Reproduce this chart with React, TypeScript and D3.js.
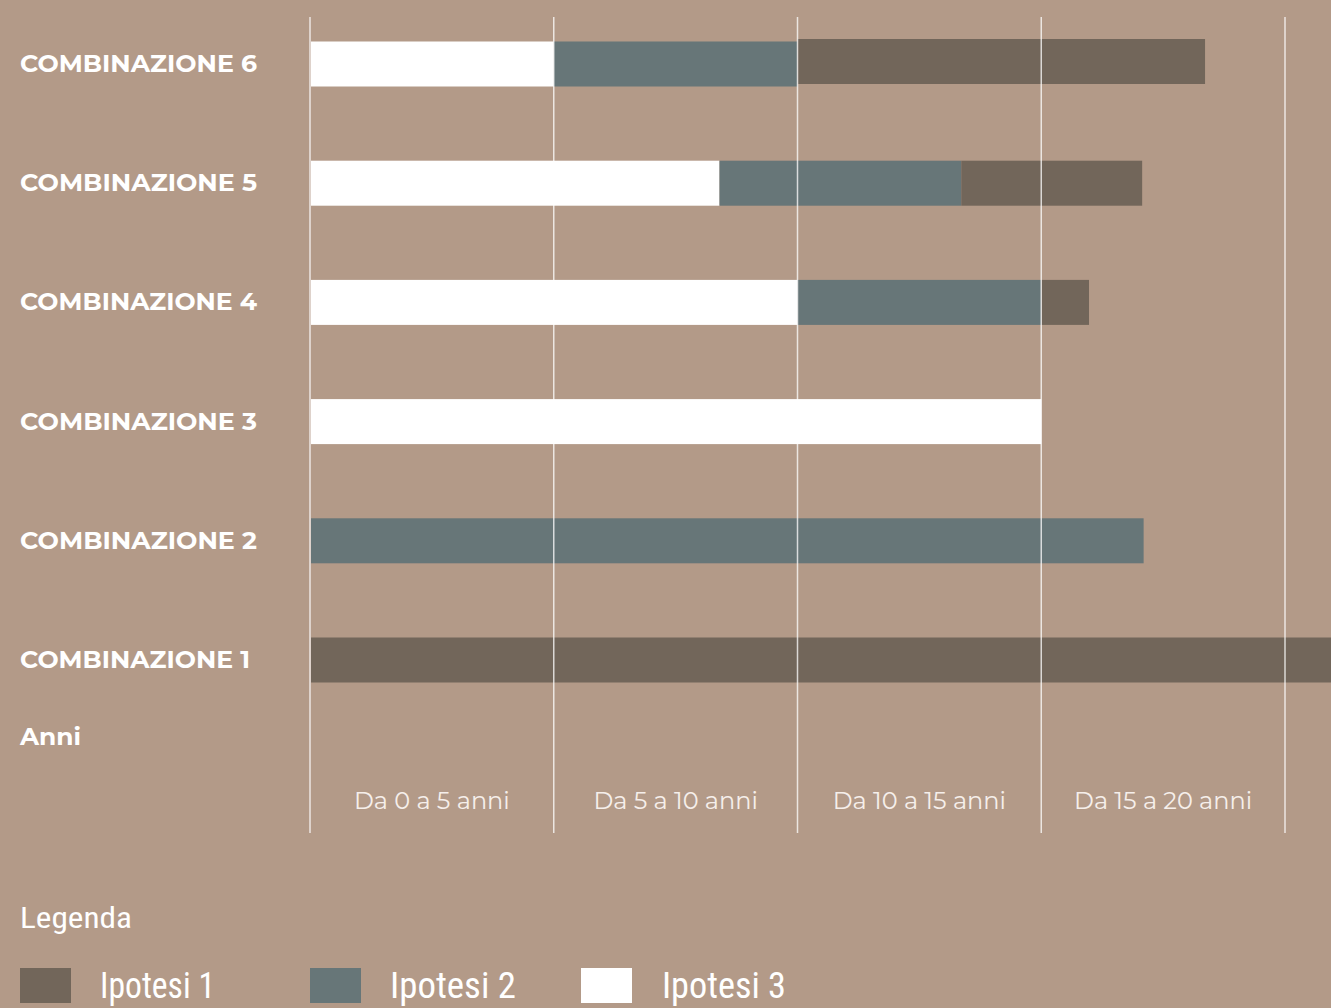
import React from "react";
import * as d3 from "d3";

const combinations = ["COMBINAZIONE 6", "COMBINAZIONE 5", "COMBINAZIONE 4", "COMBINAZIONE 3", "COMBINAZIONE 2", "COMBINAZIONE 1"];
const ipotesi3 = [5, 8.4, 10, 15, 0, 0];
const ipotesi2 = [5, 4.96, 5, 0, 17.1, 0];
const ipotesi1 = [8.36, 3.71, 0.98, 0, 0, 22];
const gridTicks = [0, 5, 10, 15, 20];
const tickLabels = ["Da 0 a 5 anni", "Da 5 a 10 anni", "Da 10 a 15 anni", "Da 15 a 20 anni"];
const legendLabels = ["Ipotesi 1", "Ipotesi 2", "Ipotesi 3"];

const W = 1331;
const H = 1008;
const BG = "#b39a88";
const C1 = "#72665a";
const C2 = "#677678";
const C3 = "#ffffff";

export default function App() {
  const x = d3.scaleLinear().domain([0, 20]).range([310, 1285]);
  const y = d3.scalePoint<string>().domain(combinations).range([64, 660]);
  const barH = 45;

  const rows = combinations.map((c, i) => ({ name: c, ip3: ipotesi3[i], ip2: ipotesi2[i], ip1: ipotesi1[i] }));
  const keys = ["ip3", "ip2", "ip1"];
  const colors: Record<string, string> = { ip3: C3, ip2: C2, ip1: C1 };
  const stacked = d3.stack<any>().keys(keys)(rows);

  const labelFont = "Montserrat, 'Open Sans', Lato, sans-serif";
  const narrowFont = "'Liberation Sans Narrow', 'Roboto Condensed', 'DejaVu Sans Condensed', sans-serif";
  const legendItems = [
    { label: legendLabels[0], color: C1, sx: 20, tx: 100, len: 115 },
    { label: legendLabels[1], color: C2, sx: 310, tx: 390, len: 126 },
    { label: legendLabels[2], color: C3, sx: 581, tx: 662, len: 124 },
  ];

  return (
    <svg width={W} height={H} style={{ position: "absolute", left: 0, top: 0, background: BG }}>
      <defs>
        <clipPath id="clip">
          <rect x={0} y={0} width={W} height={H} />
        </clipPath>
      </defs>
      <rect x={0} y={0} width={W} height={H} fill={BG} />
      <g clipPath="url(#clip)">
        {stacked.map((s) =>
          s.map((d, i) =>
            d[1] - d[0] > 0 ? (
              <rect
                key={s.key + i}
                x={x(d[0]) + (d[0] === 0 ? 1 : 0)}
                y={(y(combinations[i]) as number) - barH / 2 - (i === 0 && s.key === "ip1" ? 2.5 : 0)}
                width={x(d[1]) - x(d[0]) - (d[0] === 0 ? 1 : 0)}
                height={barH}
                fill={colors[s.key]}
              />
            ) : null
          )
        )}
      </g>
      {gridTicks.map((t) => (
        <line key={t} x1={x(t)} x2={x(t)} y1={17} y2={833} stroke="#ffffff" strokeOpacity={0.75} strokeWidth={1.5} />
      ))}
      {combinations.map((c) => (
        <text
          key={c}
          x={20}
          y={(y(c) as number) + 8}
          fill="#ffffff"
          fontFamily={labelFont}
          fontWeight={700}
          fontSize={23}
          textLength={c.endsWith("1") ? 230 : 237}
          lengthAdjust="spacingAndGlyphs"
        >
          {c}
        </text>
      ))}
      <text x={20} y={745} fill="#ffffff" fontFamily={labelFont} fontWeight={700} fontSize={23} textLength={61} lengthAdjust="spacingAndGlyphs">
        Anni
      </text>
      {tickLabels.map((t, i) => (
        <text
          key={t}
          x={(x(gridTicks[i]) + x(gridTicks[i + 1])) / 2}
          y={809}
          textAnchor="middle"
          fill="#f6efeb"
          fontFamily={labelFont}
          fontWeight={400}
          fontSize={24}
        >
          {t}
        </text>
      ))}
      <text
        x={20}
        y={928}
        fill="#ffffff"
        fontFamily={narrowFont}
        fontSize={29}
        textLength={112}
        lengthAdjust="spacingAndGlyphs"
      >
        Legenda
      </text>
      {legendItems.map((l) => (
        <g key={l.label}>
          <rect x={l.sx} y={968} width={51} height={35} fill={l.color} />
          <text
            x={l.tx}
            y={998}
            fill="#ffffff"
            fontFamily={narrowFont}
            fontSize={37}
            textLength={l.len}
            lengthAdjust="spacingAndGlyphs"
          >
            {l.label}
          </text>
        </g>
      ))}
    </svg>
  );
}
